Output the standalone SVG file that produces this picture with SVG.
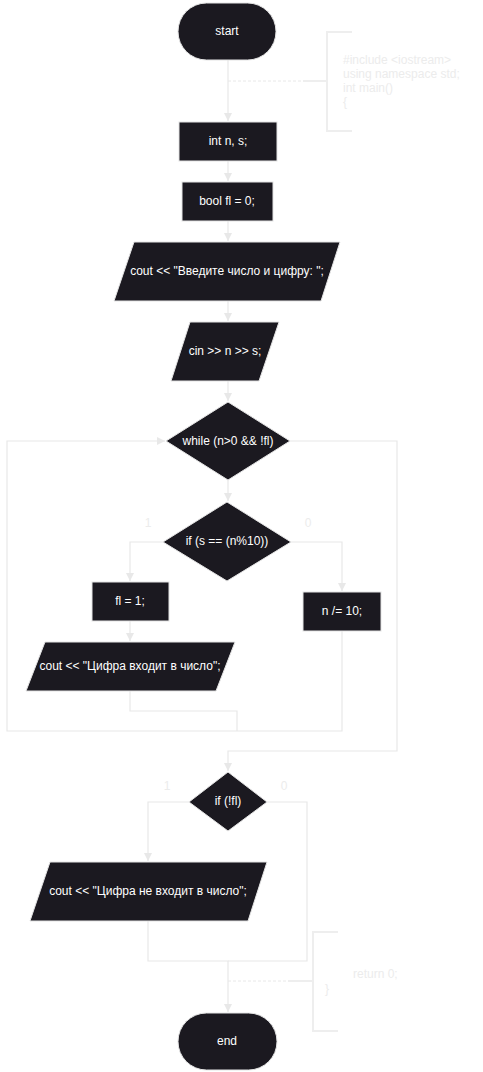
<svg xmlns="http://www.w3.org/2000/svg" width="483" height="1072" viewBox="0 0 483 1072">
<style>
.n{fill:#1b1920;stroke:#e4e4e4;stroke-width:1}
.t{fill:#ffffff;font-family:"Liberation Sans",Arial,sans-serif;font-size:12px;text-anchor:middle;dominant-baseline:central}
.c{fill:none;stroke:#e8e8e8;stroke-width:1.2}
.d{fill:none;stroke:#e8e8e8;stroke-width:1;stroke-dasharray:3,2}
.b{fill:none;stroke:#eeeeee;stroke-width:2}
.l{fill:#ececec;font-family:"Liberation Sans",Arial,sans-serif;font-size:12px;text-anchor:middle;dominant-baseline:central}
.cm{fill:#ececec;font-family:"Liberation Sans",Arial,sans-serif;font-size:12px}
</style>
<defs>
<marker id="a" viewBox="0 0 10 10" refX="10" refY="5" markerWidth="8" markerHeight="8" markerUnits="userSpaceOnUse" orient="auto">
<path d="M0,0 L10,5 L0,10 z" fill="#e8e8e8"/>
</marker>
</defs>
<g id="connectors">
<path class="c" d="M228,60 V121" marker-end="url(#a)"/>
<path class="c" d="M228,161 V181" marker-end="url(#a)"/>
<path class="c" d="M228,221 V241" marker-end="url(#a)"/>
<path class="c" d="M228,301 V321" marker-end="url(#a)"/>
<path class="c" d="M228,381 V401" marker-end="url(#a)"/>
<path class="c" d="M228,480 V501" marker-end="url(#a)"/>
<path class="c" d="M163,542 H130 V581" marker-end="url(#a)"/>
<path class="c" d="M291,542 H342 V591" marker-end="url(#a)"/>
<path class="c" d="M130,621 V641" marker-end="url(#a)"/>
<path class="c" d="M130,691 V711 H237 V731"/>
<path class="c" d="M342,631 V731 H7 V441 H165" marker-end="url(#a)"/>
<path class="c" d="M290,441 H397 V751 H228 V771" marker-end="url(#a)"/>
<path class="c" d="M189,802 H148 V861" marker-end="url(#a)"/>
<path class="c" d="M267,802 H307 V961 H228"/>
<path class="c" d="M148,921 V961 H228 V1012" marker-end="url(#a)"/>
<path class="d" d="M228,81 H303"/>
<path class="b" d="M303,81 H327"/>
<path class="d" d="M228,981 H288"/>
<path class="b" d="M288,981 H313"/>
<text class="l" x="148" y="523">1</text>
<text class="l" x="308" y="523">0</text>
<text class="l" x="167" y="786">1</text>
<text class="l" x="284" y="786">0</text>
</g>
<g id="start"><rect class="n" x="178" y="3" width="98" height="57" rx="28.5"/><text class="t" x="227" y="31">start</text></g>
<g id="comment1"><path class="b" d="M352,32 H327 V131 H352"/>
<text class="cm" x="343" y="64">#include &lt;iostream&gt;</text>
<text class="cm" x="343" y="78">using namespace std;</text>
<text class="cm" x="343" y="92">int main()</text>
<text class="cm" x="343" y="106">{</text></g>
<g id="decl1"><rect class="n" x="179" y="122" width="98" height="39"/><text class="t" x="228" y="141">int n, s;</text></g>
<g id="decl2"><rect class="n" x="182" y="182" width="91" height="39"/><text class="t" x="227" y="201">bool fl = 0;</text></g>
<g id="out1"><path class="n" d="M134,242 H340 L321,301 H114 Z"/><text class="t" x="227" y="271">cout &lt;&lt; "Введите число и цифру: ";</text></g>
<g id="in1"><path class="n" d="M190,322 H279 L259,381 H171 Z"/><text class="t" x="225" y="351">cin &gt;&gt; n &gt;&gt; s;</text></g>
<g id="while"><path class="n" d="M228,402 L290,441 L228,480 L166,441 Z"/><text class="t" x="228" y="441">while (n&gt;0 &amp;&amp; !fl)</text></g>
<g id="if1"><path class="n" d="M227,502 L291,542 L227,581 L163,542 Z"/><text class="t" x="227" y="541">if (s == (n%10))</text></g>
<g id="set"><rect class="n" x="92" y="582" width="77" height="39"/><text class="t" x="130" y="601">fl = 1;</text></g>
<g id="div"><rect class="n" x="303" y="592" width="78" height="39"/><text class="t" x="342" y="611">n /= 10;</text></g>
<g id="out2"><path class="n" d="M45,642 H235 L216,691 H26 Z"/><text class="t" x="130" y="666">cout &lt;&lt; "Цифра входит в число";</text></g>
<g id="if2"><path class="n" d="M228,772 L267,802 L228,831 L189,802 Z"/><text class="t" x="228" y="801">if (!fl)</text></g>
<g id="out3"><path class="n" d="M50,862 H267 L248,921 H30 Z"/><text class="t" x="148" y="891">cout &lt;&lt; "Цифра не входит в число";</text></g>
<g id="comment2"><path class="b" d="M338,932 H313 V1031 H338"/>
<text class="cm" x="353" y="978">return 0;</text>
<text class="cm" x="325" y="993">}</text></g>
<g id="end"><rect class="n" x="178" y="1013" width="99" height="57" rx="28.5"/><text class="t" x="227" y="1041">end</text></g>
</svg>
